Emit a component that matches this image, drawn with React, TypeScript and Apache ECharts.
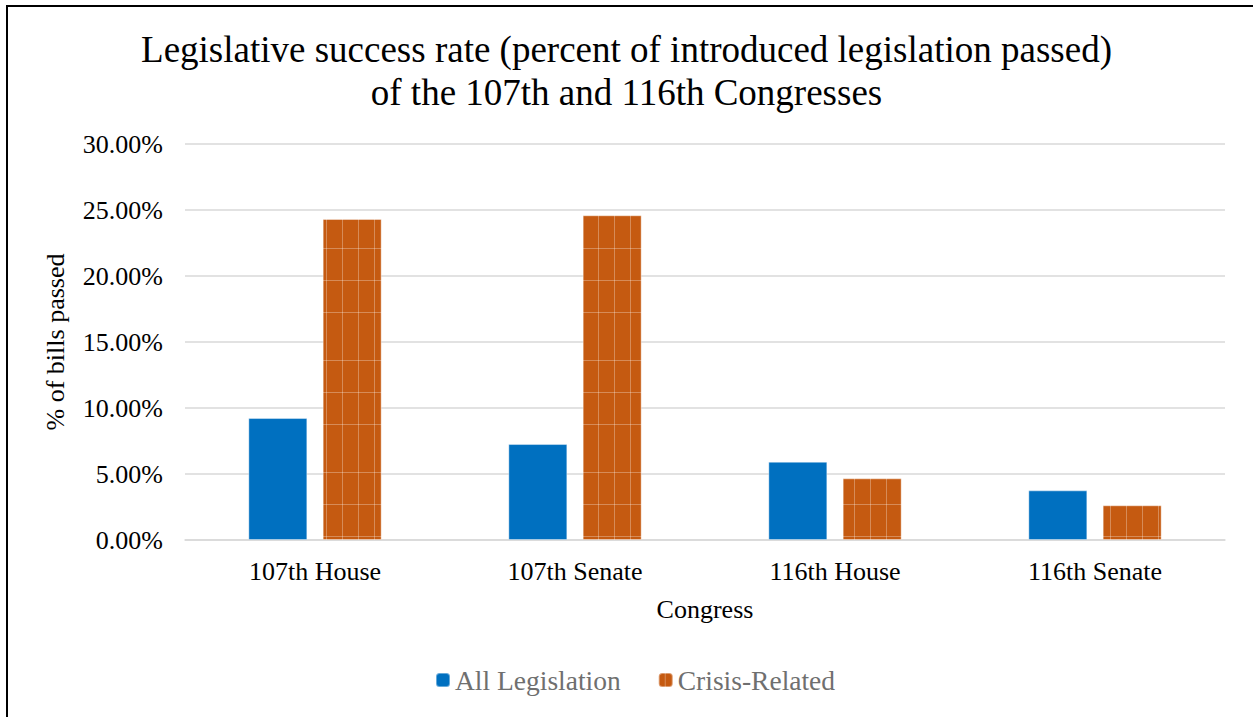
import React, { useEffect, useRef } from "react";
import * as echarts from "echarts";

const categories = ["107th House", "107th Senate", "116th House", "116th Senate"];
const allLegislation = [9.24, 7.27, 5.93, 3.76];
const crisisRelated = [24.32, 24.6, 4.67, 2.63];
const yTicks = [0, 5, 10, 15, 20, 25, 30];

const SERIF = "Liberation Serif";

function makePattern(): HTMLCanvasElement {
  const c = document.createElement("canvas");
  c.width = 16;
  c.height = 112;
  const ctx = c.getContext("2d")!;
  ctx.fillStyle = "#C55A11";
  ctx.fillRect(0, 0, 16, 112);
  ctx.fillStyle = "rgba(255,255,255,0.3)";
  ctx.fillRect(6, 0, 1, 112);
  [24, 56, 88].forEach((y) => ctx.fillRect(0, y, 16, 1));
  return c;
}

export default function App() {
  const ref = useRef<HTMLDivElement>(null);
  useEffect(() => {
    if (!ref.current) return;
    const chart = echarts.init(ref.current, null, { renderer: "svg" });
    const pattern = makePattern();
    chart.setOption({
      animation: false,
      backgroundColor: "#ffffff",
      title: {
        text: "Legislative success rate (percent of introduced legislation passed)\nof the 107th and 116th Congresses",
        left: "center",
        top: 23,
        textStyle: {
          fontFamily: SERIF,
          fontSize: 37,
          fontWeight: "normal",
          lineHeight: 43,
          color: "#000",
        },
      },
      graphic: [
        {
          type: "rect",
          shape: { x: 7, y: 6, width: 1300, height: 800 },
          style: { fill: "none", stroke: "#000", lineWidth: 2 },
          silent: true,
        },
      ],
      legend: {
        left: 435,
        top: 666,
        padding: 0,
        itemWidth: 14,
        itemHeight: 14,
        itemGap: 37,
        textStyle: { fontFamily: SERIF, fontSize: 27.5, color: "#6f6f6f" },
        data: ["All Legislation", "Crisis-Related"],
      },
      grid: { left: 185, right: 28, top: 144, bottom: 177, containLabel: false },
      xAxis: {
        type: "category",
        data: categories,
        name: "Congress",
        nameLocation: "middle",
        nameGap: 56,
        nameTextStyle: { fontFamily: SERIF, fontSize: 26, color: "#000" },
        axisLine: { show: true, lineStyle: { color: "#d9d9d9", width: 1.5 } },
        axisTick: { show: false },
        axisLabel: { fontFamily: SERIF, fontSize: 26, color: "#000", margin: 18 },
      },
      yAxis: {
        type: "value",
        min: yTicks[0],
        max: yTicks[yTicks.length - 1],
        interval: 5,
        name: "% of bills passed",
        nameLocation: "middle",
        nameRotate: 90,
        nameGap: 117,
        nameTextStyle: { fontFamily: SERIF, fontSize: 26, color: "#000" },
        axisLine: { show: false },
        axisTick: { show: false },
        splitLine: { lineStyle: { color: "#d9d9d9", width: 1.5 } },
        axisLabel: {
          fontFamily: SERIF,
          fontSize: 26,
          color: "#000",
          margin: 22,
          formatter: (v: number) => v.toFixed(2) + "%",
        },
      },
      series: [
        {
          name: "All Legislation",
          type: "bar",
          data: allLegislation,
          barWidth: 59,
          barGap: "26%",
          itemStyle: { color: "#0070C0", borderColor: "rgba(255,255,255,0.4)", borderWidth: 1 },
        },
        {
          name: "Crisis-Related",
          type: "bar",
          data: crisisRelated,
          barWidth: 59,
          barGap: "26%",
          itemStyle: {
            color: { image: pattern, repeat: "repeat" },
            borderColor: "rgba(255,255,255,0.4)",
            borderWidth: 1,
          },
        },
      ],
    });
    return () => chart.dispose();
  }, []);
  return (
    <div
      ref={ref}
      style={{ position: "absolute", left: 0, top: 0, width: 1253, height: 717, background: "#fff" }}
    />
  );
}
